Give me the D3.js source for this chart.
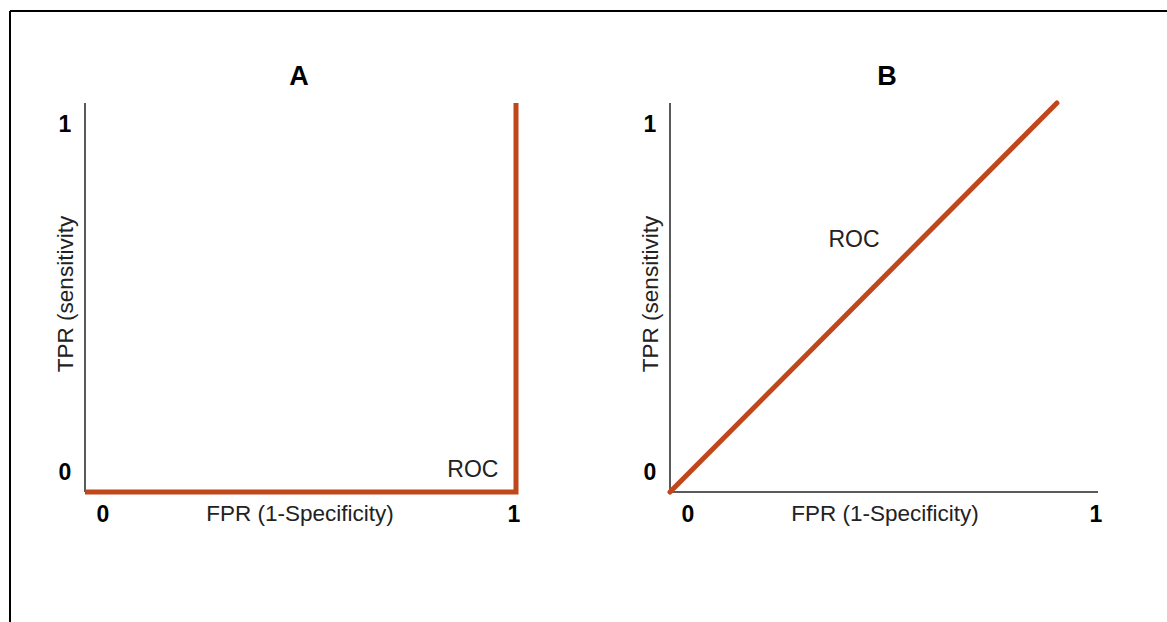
<!DOCTYPE html>
<html>
<head>
<meta charset="utf-8">
<script src="https://cdn.jsdelivr.net/npm/d3@7"></script>
<style>
  body { margin: 0; background: #fff; }
  svg { display: block; }
</style>
</head>
<body>
<svg id="chart"></svg>
<script>
// Two schematic ROC panels: perfect-worst classifier (A) and random-ish diagonal (B)

const W = 1167;
const H = 622;

const PANEL_TITLES = ["A", "B"];
const TICK_VALUES = [0, 1];
const TICK_LABELS = ["0", "1"];
const X_LABEL = "FPR (1-Specificity)";
const Y_LABEL = "TPR (sensitivity";
const CURVE_LABEL = "ROC";

// ROC points per panel [fpr, tpr]
const ROC_A = [[0, 0], [1, 0], [1, 1]];
const ROC_B = [[0, 0], [0.904, 1]];
// where the "ROC" label sits, in data units
const LABEL_POS_A = [0.9, 0.038];
const LABEL_POS_B = [0.43, 0.63];

const FONT = "Liberation Sans, Arial, sans-serif";
const RED = "#c0461b";
const AXIS = "#5a5a5a";

const svg = d3.select("#chart").attr("width", W).attr("height", H);

// outer frame (top + left only visible)
svg.append("line").attr("x1", 10).attr("y1", 11).attr("x2", W).attr("y2", 11)
    .attr("stroke", "#000").attr("stroke-width", 2);
svg.append("line").attr("x1", 10).attr("y1", 11).attr("x2", 10).attr("y2", H)
    .attr("stroke", "#000").attr("stroke-width", 2);

function drawPanel(opts) {
    const x = d3.scaleLinear().domain([0, 1]).range([opts.x0, opts.x1]);
    const y = d3.scaleLinear().domain([0, 1]).range([492, 103]);
    const g = svg.append("g");

    // title
    g.append("text")
        .attr("x", opts.titleX).attr("y", 85)
        .attr("text-anchor", "middle")
        .attr("font-family", FONT).attr("font-size", "27px").attr("font-weight", "bold")
        .text(opts.title);

    // y axis line
    g.append("line")
        .attr("x1", x(0)).attr("y1", y(0)).attr("x2", x(0)).attr("y2", y(1))
        .attr("stroke", AXIS).attr("stroke-width", 2);
    // x axis line
    g.append("line")
        .attr("x1", x(0)).attr("y1", y(0)).attr("x2", x(1)).attr("y2", y(0))
        .attr("stroke", AXIS).attr("stroke-width", 2);

    // y tick labels
    g.selectAll(".ytick").data(TICK_VALUES).enter().append("text")
        .attr("x", x(0) - 20)
        .attr("y", d => y(d) + (d === 1 ? 29 : -12))
        .attr("text-anchor", "middle")
        .attr("font-family", FONT).attr("font-size", "23px").attr("font-weight", "bold")
        .text((d, i) => TICK_LABELS[i]);

    // x tick labels
    g.selectAll(".xtick").data(TICK_VALUES).enter().append("text")
        .attr("x", d => d === 0 ? x(d) + 18 : x(d) - 2)
        .attr("y", 522)
        .attr("text-anchor", "middle")
        .attr("font-family", FONT).attr("font-size", "23px").attr("font-weight", "bold")
        .text((d, i) => TICK_LABELS[i]);

    // axis labels
    g.append("text")
        .attr("x", opts.xLabelX).attr("y", 521)
        .attr("text-anchor", "middle")
        .attr("font-family", FONT).attr("font-size", "22.5px").attr("fill", "#222")
        .text(X_LABEL);
    g.append("text")
        .attr("transform", `translate(${x(0) - 12}, 294) rotate(-90)`)
        .attr("text-anchor", "middle")
        .attr("font-family", FONT).attr("font-size", "22.5px").attr("fill", "#222")
        .text(Y_LABEL);

    // ROC curve
    const line = d3.line().x(d => x(d[0])).y(d => y(d[1]));
    g.append("path")
        .attr("d", line(opts.roc))
        .attr("fill", "none")
        .attr("stroke", RED)
        .attr("stroke-width", 5)
        .attr("stroke-linejoin", "miter")
        .attr("stroke-linecap", opts.cap);

    g.append("text")
        .attr("x", x(opts.labelPos[0])).attr("y", y(opts.labelPos[1]))
        .attr("text-anchor", "middle")
        .attr("font-family", FONT).attr("font-size", "23px").attr("fill", "#222")
        .text(CURVE_LABEL);
}

drawPanel({
    title: PANEL_TITLES[0], titleX: 299, xLabelX: 300,
    x0: 85, x1: 516, roc: ROC_A, labelPos: LABEL_POS_A, cap: "butt"
});
drawPanel({
    title: PANEL_TITLES[1], titleX: 887, xLabelX: 885,
    x0: 670, x1: 1098, roc: ROC_B, labelPos: LABEL_POS_B, cap: "round"
});
</script>
</body>
</html>
